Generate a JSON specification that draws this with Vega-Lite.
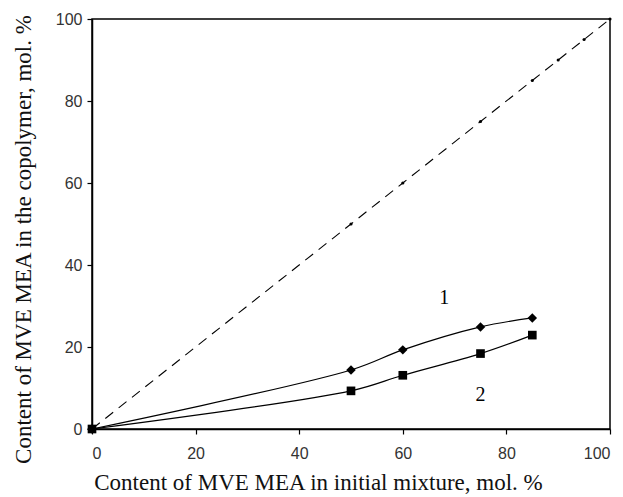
{
  "$schema": "https://vega.github.io/schema/vega-lite/v6.json",
  "autosize": "none",
  "width": 518,
  "height": 410,
  "padding": {"left": 92, "top": 19, "right": 13, "bottom": 68},
  "background": "white",
  "config": {
    "view": {"stroke": "black", "strokeWidth": 1.5},
    "axis": {"grid": false, "domainColor": "black", "domainWidth": 1.5, "tickColor": "black", "tickSize": 5, "tickWidth": 1.2, "labelFont": "Liberation Sans", "labelFontSize": 16, "labelColor": "#333", "titleFont": "Liberation Serif", "titleFontSize": 23, "titleFontWeight": "normal", "titleColor": "#111"}
  },
  "datasets": {
    "diag": [
      {"x": 0, "y": 0}, {"x": 50, "y": 50}, {"x": 60, "y": 60}, {"x": 75, "y": 75},
      {"x": 85, "y": 85}, {"x": 90, "y": 90}, {"x": 95, "y": 95}, {"x": 100, "y": 100}
    ],
    "s1": [
      {"x": 0, "y": 0}, {"x": 50, "y": 14.4}, {"x": 60, "y": 19.3}, {"x": 75, "y": 24.9}, {"x": 85, "y": 27.1}
    ],
    "s2": [
      {"x": 0, "y": 0}, {"x": 50, "y": 9.3}, {"x": 60, "y": 13.1}, {"x": 75, "y": 18.4}, {"x": 85, "y": 22.9}
    ],
    "labels": [
      {"x": 68, "y": 32, "t": "1"}, {"x": 75, "y": 8.3, "t": "2"}
    ]
  },
  "encoding": {
    "x": {"field": "x", "type": "quantitative", "scale": {"domain": [0, 100], "nice": false}, "axis": {"values": [0, 20, 40, 60, 80, 100], "labelPadding": 11, "title": "Content of MVE MEA in initial mixture, mol. %", "titlePadding": 10, "titleX": 226}},
    "y": {"field": "y", "type": "quantitative", "scale": {"domain": [0, 100], "nice": false}, "axis": {"values": [0, 20, 40, 60, 80, 100], "labelPadding": 5, "title": "Content of MVE MEA in the copolymer, mol. %", "titlePadding": 20, "titleY": 220}}
  },
  "layer": [
    {"data": {"name": "diag"}, "mark": {"type": "line", "color": "black", "strokeWidth": 1.1, "strokeDash": [10, 7]}},
    {"data": {"name": "diag"}, "mark": {"type": "point", "filled": true, "color": "black", "size": 10, "opacity": 1}},
    {"data": {"name": "s1"}, "mark": {"type": "line", "color": "black", "strokeWidth": 1.2, "interpolate": "catmull-rom"}},
    {"data": {"name": "s1"}, "mark": {"type": "point", "shape": "diamond", "filled": true, "color": "black", "size": 90, "opacity": 1}},
    {"data": {"name": "s2"}, "mark": {"type": "line", "color": "black", "strokeWidth": 1.2, "interpolate": "catmull-rom"}},
    {"data": {"name": "s2"}, "mark": {"type": "point", "shape": "square", "filled": true, "color": "black", "size": 75, "opacity": 1}},
    {"data": {"name": "labels"}, "mark": {"type": "text", "font": "Liberation Serif", "fontSize": 20, "color": "black"}, "encoding": {"text": {"field": "t"}}}
  ]
}
